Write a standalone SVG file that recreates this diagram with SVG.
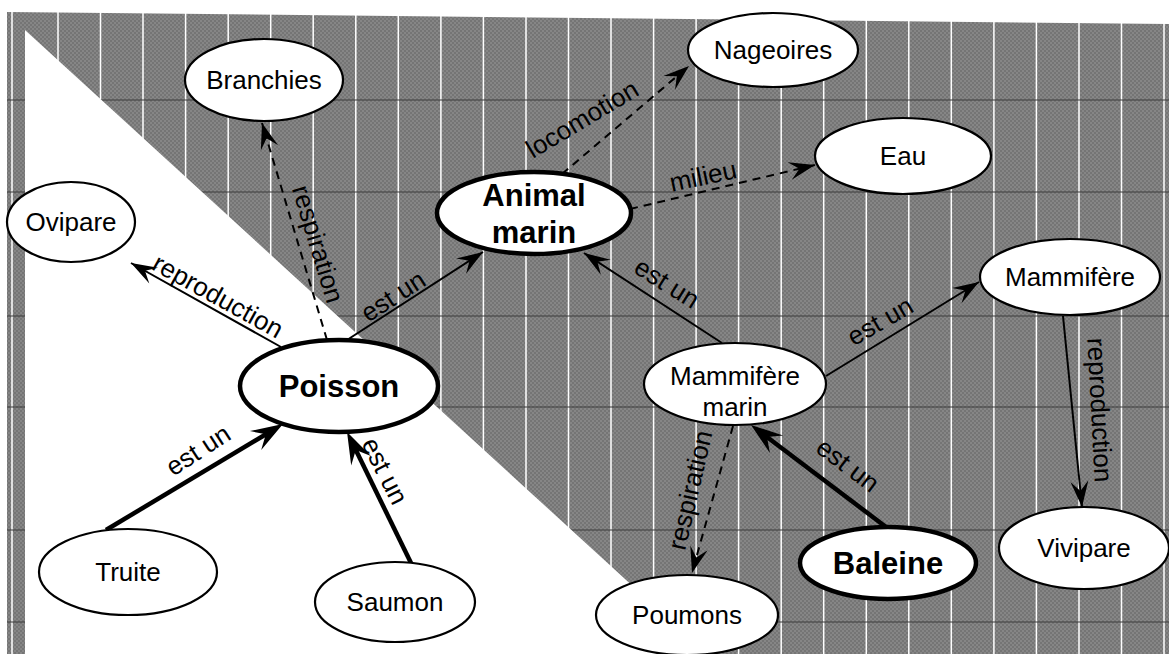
<svg xmlns="http://www.w3.org/2000/svg" width="1169" height="654" viewBox="0 0 1169 654">
<defs>
<pattern id="chk" width="4" height="4" patternUnits="userSpaceOnUse">
<rect width="4" height="4" fill="#757575"/>
<rect width="2" height="2" fill="#868686"/>
<rect x="2" y="2" width="2" height="2" fill="#868686"/>
</pattern>
<marker id="ah" markerUnits="userSpaceOnUse" markerWidth="40" markerHeight="30" viewBox="-30 -15 40 30" refX="0" refY="0" orient="auto" overflow="visible">
<path d="M0,0 L-26,-9 L-16,0 L-26,9 Z" fill="#000"/>
</marker>
<marker id="ahb" markerUnits="userSpaceOnUse" markerWidth="50" markerHeight="34" viewBox="-36 -17 50 34" refX="0" refY="0" orient="auto" overflow="visible">
<path d="M12,0 L-20,-11 L-8,0 L-20,11 Z" fill="#000"/>
</marker>
</defs>
<style>
.n ellipse{fill:#fff;stroke:#000;stroke-width:2.2}
.n.b ellipse{stroke-width:4.5}
text{font-family:"Liberation Sans",Arial,sans-serif;fill:#000}
.t{font-size:26px;text-anchor:middle}
.bt{font-size:31px;font-weight:bold;text-anchor:middle}
.lb{font-size:26px;text-anchor:middle}
.e{fill:none;stroke:#000;stroke-width:2}
.d{stroke-dasharray:8 6}
.k{stroke-width:4.5}
</style>
<rect width="1169" height="654" fill="#fff"/>
<g id="background">
<polygon points="7,12 1169,24 1169,654 7,654" fill="url(#chk)"/>
<path d="M12,0V654 M58,0V654 M100.5,0V654 M143,0V654 M185.6,0V654 M228.2,0V654 M270.7,0V654 M313.2,0V654 M355.8,0V654 M398.3,0V654 M440.9,0V654 M483.4,0V654 M526,0V654 M568.5,0V654 M611,0V654 M653.6,0V654 M696.1,0V654 M738.6,0V654 M781.2,0V654 M823.7,0V654 M866.3,0V654 M908.8,0V654 M951.3,0V654 M993.9,0V654 M1036.4,0V654 M1079,0V654 M1121.5,0V654 M1164,0V654" stroke="#fff" stroke-width="1.5"/>
<path d="M7,100H1169 M7,192H1169 M7,316H1169 M7,407H1169 M7,530H1169 M7,622H1169" stroke="#3c3c3c" stroke-width="1.2"/>
<polygon points="25,30 707,654 25,654" fill="#fff"/>
</g>
<g id="connectors">
<line class="e" x1="347" y1="340" x2="483" y2="252" marker-end="url(#ah)"/>
<text class="lb" transform="translate(393,296) rotate(-33)" y="9">est un</text>
<line class="e" x1="281" y1="347" x2="131" y2="263" marker-end="url(#ah)"/>
<text class="lb" transform="translate(218,296) rotate(29)" y="9">reproduction</text>
<line class="e d" x1="327" y1="340" x2="262" y2="123" marker-end="url(#ah)"/>
<text class="lb" transform="translate(318,244) rotate(73)" y="9">respiration</text>
<line class="e k" x1="106" y1="530" x2="272.7" y2="430.2" marker-end="url(#ahb)"/>
<text class="lb" transform="translate(198,450) rotate(-33)" y="9">est un</text>
<line class="e k" x1="411" y1="563" x2="352.3" y2="442.8" marker-end="url(#ahb)"/>
<text class="lb" transform="translate(385,471) rotate(63)" y="9">est un</text>
<line class="e" x1="722" y1="343" x2="584" y2="253" marker-end="url(#ah)"/>
<text class="lb" transform="translate(667,283) rotate(32)" y="9">est un</text>
<line class="e" x1="826" y1="376" x2="979" y2="282" marker-end="url(#ah)"/>
<text class="lb" transform="translate(880,321) rotate(-30)" y="9">est un</text>
<line class="e d" x1="733" y1="426" x2="692" y2="573" marker-end="url(#ah)"/>
<text class="lb" transform="translate(690,490) rotate(-77)" y="9">respiration</text>
<line class="e k" x1="886" y1="527" x2="760.6" y2="432.2" marker-end="url(#ahb)"/>
<text class="lb" transform="translate(848,465) rotate(37)" y="9">est un</text>
<line class="e" x1="1063" y1="316" x2="1082" y2="507" marker-end="url(#ah)"/>
<text class="lb" transform="translate(1100,410) rotate(87)" y="9">reproduction</text>
<line class="e d" x1="630" y1="209" x2="815" y2="165" marker-end="url(#ah)"/>
<text class="lb" transform="translate(703,176) rotate(-12)" y="9">milieu</text>
<line class="e d" x1="562" y1="174" x2="689" y2="66" marker-end="url(#ah)"/>
<text class="lb" transform="translate(582,119) rotate(-31)" y="9">locomotion</text>
</g>
<g id="node-branchies" class="n"><ellipse cx="264" cy="80" rx="79" ry="41"/><text class="t" x="264" y="89">Branchies</text></g>
<g id="node-nageoires" class="n"><ellipse cx="773" cy="50" rx="85" ry="37"/><text class="t" x="773" y="59">Nageoires</text></g>
<g id="node-eau" class="n"><ellipse cx="903" cy="156" rx="88" ry="38"/><text class="t" x="903" y="165">Eau</text></g>
<g id="node-animal-marin" class="n b"><ellipse cx="534" cy="213" rx="97" ry="41"/><text class="bt" x="534" y="206">Animal</text><text class="bt" x="534" y="243">marin</text></g>
<g id="node-ovipare" class="n"><ellipse cx="71" cy="222" rx="64" ry="40"/><text class="t" x="71" y="231">Ovipare</text></g>
<g id="node-mammifere" class="n"><ellipse cx="1070" cy="277" rx="90" ry="38"/><text class="t" x="1070" y="286">Mammifère</text></g>
<g id="node-mammifere-marin" class="n"><ellipse cx="735" cy="384" rx="91" ry="41"/><text class="t" x="735" y="385">Mammifère</text><text class="t" x="735" y="416">marin</text></g>
<g id="node-poisson" class="n b"><ellipse cx="339" cy="386" rx="99" ry="46"/><text class="bt" x="339" y="397">Poisson</text></g>
<g id="node-truite" class="n"><ellipse cx="128" cy="572" rx="89" ry="43"/><text class="t" x="128" y="581">Truite</text></g>
<g id="node-saumon" class="n"><ellipse cx="395" cy="602" rx="80" ry="40"/><text class="t" x="395" y="611">Saumon</text></g>
<g id="node-poumons" class="n"><ellipse cx="687" cy="615" rx="91" ry="40"/><text class="t" x="687" y="624">Poumons</text></g>
<g id="node-baleine" class="n b"><ellipse cx="888" cy="563" rx="88" ry="36"/><text class="bt" x="888" y="574">Baleine</text></g>
<g id="node-vivipare" class="n"><ellipse cx="1084" cy="548" rx="85" ry="41"/><text class="t" x="1084" y="557">Vivipare</text></g>
</svg>
